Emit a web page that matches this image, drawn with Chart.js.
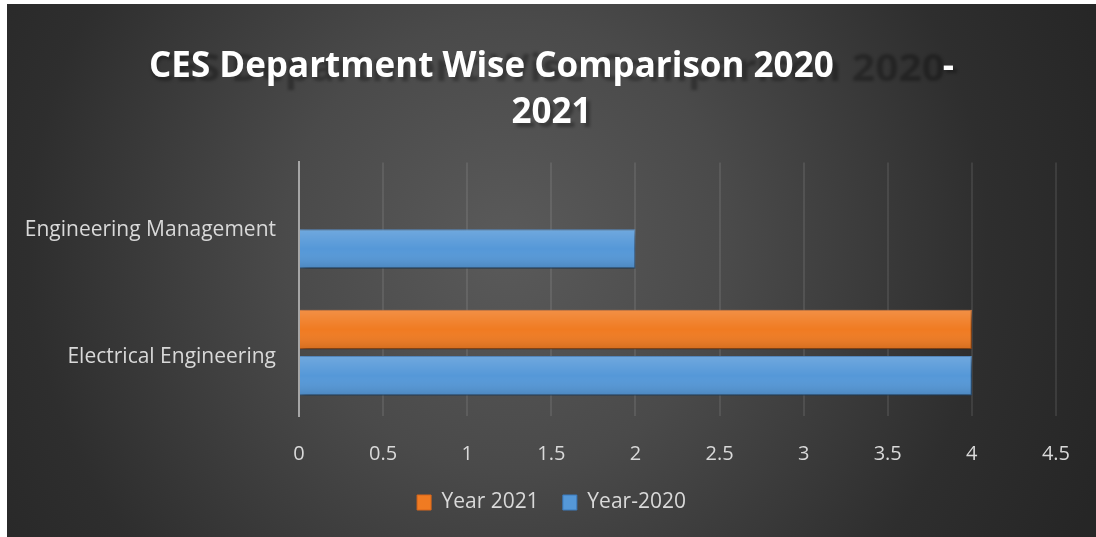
<!DOCTYPE html>
<html>
<head>
<meta charset="utf-8">
<script src="https://cdn.jsdelivr.net/npm/chart.js@4.4.1/dist/chart.umd.min.js"></script>
<style>
   html, body { margin:0; padding:0; background:#ffffff; }
   #wrap { position:absolute; left:7px; top:4px; width:1089px; height:533px; }
</style>
</head>
<body>
<div id="wrap"><canvas id="chart"></canvas></div>
<script>

/* data */
let categories = ["Engineering Management", "Electrical Engineering"];

let year2021 = [null, 4];
let year2020 = [2, 4];

let xTickValues = [0, 0.5, 1, 1.5, 2, 2.5, 3, 3.5, 4, 4.5];

let titleLines = ["CES Department Wise Comparison 2020            -", "2021"];
let titleShadow = ["CES Department Wise Comparison 2020-", "2021"];

let textColor = "#d9d9d9";
let fontFamily = "'Open Sans', 'Liberation Sans', sans-serif";


/* dark radial background */
let backgroundPlugin = {

   id: "bgFill",

   beforeDraw(chart){

      let ctx = chart.ctx;
      let w = chart.width, h = chart.height;

      let g = ctx.createRadialGradient(w*0.46, h*0.45, 0, w*0.46, h*0.45, 640);
      g.addColorStop(0, "#5a5a5a");
      g.addColorStop(0.35, "#4a4a4a");
      g.addColorStop(0.75, "#2e2e2e");
      g.addColorStop(1, "#262626");

      ctx.save();
      ctx.fillStyle = g;
      ctx.fillRect(0, 0, w, h);

      /* faint shadow of the title, like the office effect */
      let tb = chart.titleBlock;
      if(tb){
         let opt = chart.options.plugins.title;
         let lh = opt.font.size * opt.font.lineHeight;
         ctx.font = "bold " + opt.font.size + "px " + opt.font.family;
         ctx.fillStyle = "rgba(0,0,0,0.3)";
         ctx.textBaseline = "middle";
         ctx.filter = "blur(1.5px)";

         let cx = tb.left + tb.width/2;
         let top = tb.top + opt.padding.top;

         let whiteW = ctx.measureText(titleLines[0]).width;
         let left = cx - whiteW/2;
         let sw = ctx.measureText(titleShadow[0]).width;

         ctx.save();
         ctx.translate(left, top + lh/2 + 3);
         ctx.scale((whiteW + 4) / sw, 1.05);
         ctx.textAlign = "left";
         ctx.fillText(titleShadow[0], 0, 0);
         ctx.restore();

         ctx.textAlign = "center";
         ctx.fillText(titleShadow[1], cx + 4, top + lh*1.5 + 4);
      }

      ctx.restore();

   }

};


/* soft drop shadow under bars + top-to-bottom shine */
let barShadePlugin = {

   id: "barShade",

   beforeDatasetsDraw(chart){

      let ctx = chart.ctx;
      ctx.save();
      ctx.shadowColor = "rgba(0,0,0,0.55)";
      ctx.shadowBlur = 7;
      ctx.shadowOffsetX = 2;
      ctx.shadowOffsetY = 3;

   },

   afterDatasetsDraw(chart){

      let ctx = chart.ctx;
      ctx.restore();

      chart.data.datasets.forEach((ds, i) => {

         let meta = chart.getDatasetMeta(i);

         meta.data.forEach((bar, j) => {

            if(ds.data[j] == null) return;

            let p = bar.getProps(["x","y","base","height"], true);
            let top = p.y - p.height/2;

            let g = ctx.createLinearGradient(0, top, 0, top + p.height);
            g.addColorStop(0, "rgba(255,255,255,0.16)");
            g.addColorStop(0.5, "rgba(255,255,255,0)");
            g.addColorStop(1, "rgba(0,0,0,0.12)");

            ctx.save();
            ctx.fillStyle = g;
            ctx.fillRect(p.base, top, p.x - p.base, p.height);
            ctx.restore();

         });

      });

   }

};


let ctx =
   document.getElementById("chart").getContext("2d");

new Chart(ctx, {

   type: "bar",

   data: {

      labels: categories,

      datasets: [

         {
            label: "Year 2021",
            data: year2021,
            backgroundColor: "#f07b22",
            borderColor: "#d9661a",
            borderWidth: 1
         },

         {
            label: "Year-2020",
            data: year2020,
            backgroundColor: "#5598d8",
            borderColor: "#3b7bbd",
            borderWidth: 1
         }

      ]

   },

   options: {

      indexAxis: "y",
      responsive: true,
      maintainAspectRatio: false,
      animation: false,

      categoryPercentage: 0.73,
      barPercentage: 0.85,

      layout: {
         padding: { left: 0, right: 0, top: 0, bottom: 14 }
      },

      plugins: {

         title: {
            display: true,
            text: titleLines,
            color: "#ffffff",
            font: { family: fontFamily, size: 35, weight: "bold", lineHeight: 1.32 },
            padding: { top: 40, bottom: 26 }
         },

         legend: {
            position: "bottom",
            labels: {
               color: textColor,
               font: { family: fontFamily, size: 21 },
               boxWidth: 14,
               boxHeight: 15,
               padding: 24
            }
         },

         tooltip: { enabled: false }

      },

      scales: {

         x: {

            min: xTickValues[0],
            max: xTickValues[xTickValues.length - 1],

            afterBuildTicks(scale){
               scale.ticks = xTickValues.map(v => ({ value: v }));
            },

            afterFit(scale){
               scale.height = 52;
            },

            ticks: {
               color: textColor,
               font: { family: fontFamily, size: 20 },
               padding: 26,
               callback: v => String(v)
            },

            grid: {
               drawTicks: false,
               lineWidth: 2,
               color: c => c.tick && c.tick.value === 0 ? "rgba(0,0,0,0)" : "rgba(255,255,255,0.09)"
            },

            border: { display: false }

         },

         y: {

            afterFit(scale){
               scale.width = 292;
            },

            ticks: {
               color: textColor,
               font: { family: fontFamily, size: 21 },
               padding: 23,
               labelOffset: 4
            },

            grid: { display: false, drawTicks: false },

            border: { display: true, color: "#a6a6a6", width: 2 }

         },

         /* empty right-hand strip, keeps the plot off the right edge */
         yRight: {

            type: "category",
            axis: "y",
            position: "right",

            afterFit(scale){
               scale.width = 40;
            },

            ticks: { display: false },
            grid: { display: false, drawTicks: false },
            border: { display: false }

         }

      }

   },

   plugins: [backgroundPlugin, barShadePlugin]

});

</script>
</body>
</html>
